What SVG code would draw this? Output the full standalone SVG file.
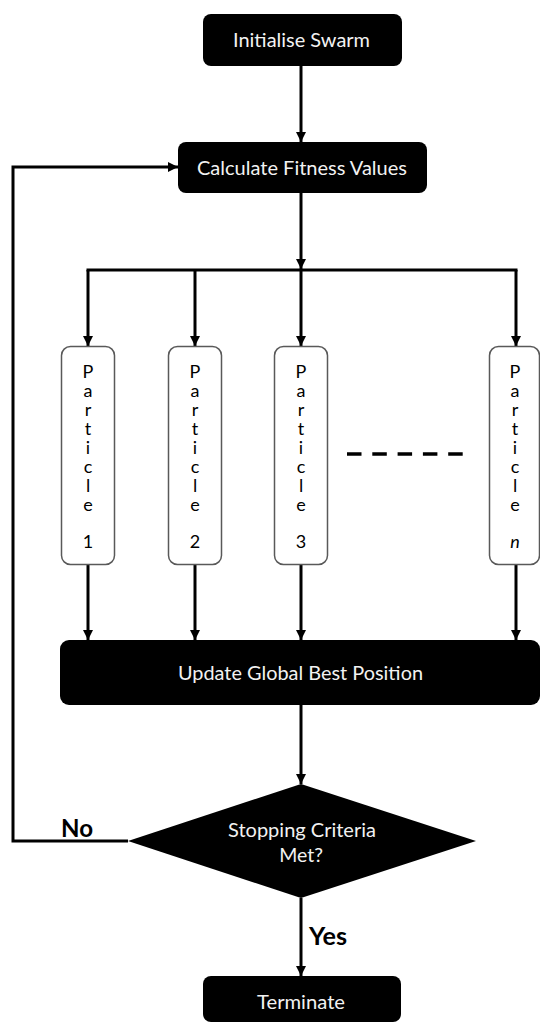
<svg xmlns="http://www.w3.org/2000/svg" width="540" height="1024" viewBox="0 0 540 1024">
<style>
  .box { fill: #000; }
  .lbl { font-family: Lato, "Open Sans", "Liberation Sans", sans-serif; font-size: 19.5px; fill: #f2f2f2; text-anchor: middle; }
  .pbox { fill: #fff; stroke: #595959; stroke-width: 1.5; }
  .plt { font-family: Lato, "Open Sans", "Liberation Sans", sans-serif; font-size: 18px; fill: #000; text-anchor: middle; }
  .pv { font-family: Lato, "Open Sans", "Liberation Sans", sans-serif; font-size: 18px; fill: #000; writing-mode: vertical-rl; text-orientation: upright; letter-spacing: -3px; }
  .yn { font-family: Lato, "Open Sans", "Liberation Sans", sans-serif; font-size: 25px; font-weight: bold; fill: #000; }
  .conn { fill: none; stroke: #000; stroke-width: 3; }
</style>
<defs>
  <marker id="ah" markerWidth="10" markerHeight="10" viewBox="0 0 10 10" refX="10" refY="5" orient="auto" markerUnits="userSpaceOnUse">
    <path d="M0,0 L10,5 L0,10 Z" fill="#000"/>
  </marker>
</defs>

<g id="connectors">
  <line class="conn" x1="301" y1="66" x2="301" y2="142" marker-end="url(#ah)"/>
  <line class="conn" x1="301" y1="193" x2="301" y2="269" marker-end="url(#ah)"/>
  <line class="conn" x1="86.5" y1="270" x2="517.5" y2="270"/>
  <line class="conn" x1="88" y1="270" x2="88" y2="346" marker-end="url(#ah)"/>
  <line class="conn" x1="195" y1="270" x2="195" y2="346" marker-end="url(#ah)"/>
  <line class="conn" x1="301" y1="270" x2="301" y2="346" marker-end="url(#ah)"/>
  <line class="conn" x1="516" y1="270" x2="516" y2="346" marker-end="url(#ah)"/>
  <line class="conn" x1="88" y1="565" x2="88" y2="640" marker-end="url(#ah)"/>
  <line class="conn" x1="195" y1="565" x2="195" y2="640" marker-end="url(#ah)"/>
  <line class="conn" x1="301" y1="565" x2="301" y2="640" marker-end="url(#ah)"/>
  <line class="conn" x1="516" y1="565" x2="516" y2="640" marker-end="url(#ah)"/>
  <line class="conn" x1="301" y1="705" x2="301" y2="784" marker-end="url(#ah)"/>
  <line class="conn" x1="301" y1="898" x2="301" y2="976" marker-end="url(#ah)"/>
  <polyline class="conn" points="128,841 13,841 13,167 178,167" marker-end="url(#ah)"/>
  <line x1="347" y1="454" x2="463" y2="454" stroke="#000" stroke-width="3.5" stroke-dasharray="14.5 10.8"/>
</g>

<g id="init">
  <rect class="box" x="203" y="14" width="199" height="52" rx="8"/>
  <text class="lbl" x="301.5" y="47" textLength="137" lengthAdjust="spacingAndGlyphs">Initialise Swarm</text>
</g>
<g id="calc">
  <rect class="box" x="178" y="142" width="249" height="51" rx="8"/>
  <text class="lbl" x="302" y="175" textLength="210" lengthAdjust="spacingAndGlyphs">Calculate Fitness Values</text>
</g>

<g id="particle1">
  <rect class="pbox" x="61.5" y="346.5" width="53" height="218" rx="9"/>
  <text class="pv" x="88" y="360">Particle</text>
  <text class="plt" x="88" y="548">1</text>
</g>
<g id="particle2">
  <rect class="pbox" x="168.5" y="346.5" width="53" height="218" rx="9"/>
  <text class="pv" x="195" y="360">Particle</text>
  <text class="plt" x="195" y="548">2</text>
</g>
<g id="particle3">
  <rect class="pbox" x="274.5" y="346.5" width="53" height="218" rx="9"/>
  <text class="pv" x="301" y="360">Particle</text>
  <text class="plt" x="301" y="548">3</text>
</g>
<g id="particleN">
  <rect class="pbox" x="489.5" y="346.5" width="50" height="218" rx="9"/>
  <text class="pv" x="515" y="360">Particle</text>
  <text class="plt" x="515" y="548" font-style="italic">n</text>
</g>

<g id="update">
  <rect class="box" x="60" y="640" width="480" height="65" rx="9"/>
  <text class="lbl" x="300.5" y="680" textLength="245" lengthAdjust="spacingAndGlyphs">Update Global Best Position</text>
</g>

<g id="decision">
  <polygon class="box" points="301,784 476,841 301,898 128,841"/>
  <text class="lbl" x="302" y="837" textLength="148" lengthAdjust="spacingAndGlyphs">Stopping Criteria</text>
  <text class="lbl" x="301" y="862">Met?</text>
</g>

<g id="labels">
  <text class="yn" x="61" y="837" textLength="32" lengthAdjust="spacingAndGlyphs">No</text>
  <text class="yn" x="309" y="945" textLength="38" lengthAdjust="spacingAndGlyphs">Yes</text>
</g>

<g id="terminate">
  <rect class="box" x="203" y="976" width="198" height="46" rx="8"/>
  <text class="lbl" x="301" y="1009" textLength="88" lengthAdjust="spacingAndGlyphs">Terminate</text>
</g>
</svg>
